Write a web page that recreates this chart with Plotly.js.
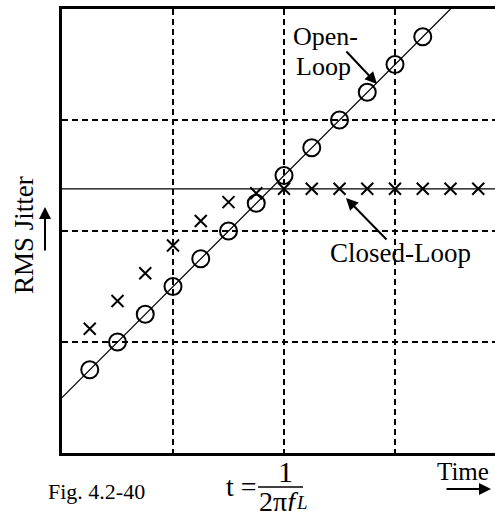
<!DOCTYPE html>
<html>
<head>
<meta charset="utf-8">
<script src="https://cdn.plot.ly/plotly-3.0.1.min.js"></script>
<style>html,body{margin:0;padding:0;background:#fff;}#chart{width:495px;height:511px;}</style>
</head>
<body>
<div id="chart"></div>
<script>
// ---- data (in grid units: one dashed grid cell = 1) ----
var openX = [0.25, 0.5, 0.75, 1.0, 1.25, 1.5, 1.75, 2.0, 2.25, 2.5, 2.75, 3.0, 3.25];
var openY = [0.75, 1.0, 1.25, 1.5, 1.75, 2.0, 2.25, 2.5, 2.75, 3.0, 3.25, 3.5, 3.75];
var closedX = [0.25, 0.5, 0.75, 1.0, 1.25, 1.5, 1.75, 2.0, 2.25, 2.5, 2.75, 3.0, 3.25, 3.5, 3.75];
var closedY = [1.12, 1.37, 1.62, 1.87, 2.09, 2.26, 2.34, 2.38, 2.38, 2.38, 2.38, 2.38, 2.38, 2.38, 2.38];
var lineX = [0, 3.5];
var lineY = [0.5, 4.0];
var plateau = 2.38;
var gridX = [1, 2, 3];
var gridY = [1, 2, 3];

// ---- layout helpers (pixel -> paper) ----
var W = 495, H = 511, ML = 62, MR = 0, MT = 9, MB = 58;
var PW = W - ML - MR, PH = H - MT - MB;
function px(x) { return (x - ML) / PW; }
function py(y) { return (H - MB - y) / PH; }
var FONT = 'Liberation Serif, Times New Roman, serif';

var traces = [
  {x: lineX, y: lineY, mode: 'lines', line: {color: '#000', width: 1.2}, hoverinfo: 'skip'},
  {x: openX, y: openY, mode: 'markers',
   marker: {symbol: 'circle-open', size: 17, color: '#000', line: {width: 2, color: '#000'}}},
  {x: closedX, y: closedY, mode: 'markers',
   marker: {symbol: 'x-thin-open', size: 12, color: '#000', line: {width: 2, color: '#000'}}}
];

var layout = {
  width: W, height: H,
  margin: {l: ML, r: MR, t: MT, b: MB, pad: 0},
  paper_bgcolor: '#fff', plot_bgcolor: '#fff',
  showlegend: false,
  font: {family: FONT, color: '#000'},
  xaxis: {range: [0, PW / 111], tickvals: gridX, showticklabels: false, ticks: '',
          showgrid: true, gridcolor: '#000', gridwidth: 2, griddash: '6px,4px',
          zeroline: false, showline: true, linecolor: '#000', linewidth: 3, mirror: true,
          fixedrange: true},
  yaxis: {range: [0, 4], tickvals: gridY, showticklabels: false, ticks: '',
          showgrid: true, gridcolor: '#000', gridwidth: 2, griddash: '6px,4px',
          zeroline: false, showline: true, linecolor: '#000', linewidth: 3, mirror: false,
          fixedrange: true},
  shapes: [
    {type: 'line', xref: 'paper', yref: 'y', x0: 0, x1: 1, y0: plateau, y1: plateau,
     line: {color: '#000', width: 1.2}},
    {type: 'line', xref: 'paper', yref: 'paper', x0: px(258), x1: px(303), y0: py(487), y1: py(487),
     line: {color: '#000', width: 1.5}}
  ],
  annotations: [
    {xref: 'paper', yref: 'paper', x: px(291), y: py(36), text: 'Open-', showarrow: false,
     xanchor: 'left', yanchor: 'middle', font: {size: 26}},
    {xref: 'paper', yref: 'paper', x: px(294), y: py(66), text: 'Loop', showarrow: false,
     xanchor: 'left', yanchor: 'middle', font: {size: 26}},
    {xref: 'paper', yref: 'paper', x: px(377), y: py(84), ax: -32, ay: -34, text: '',
     showarrow: true, arrowhead: 2, arrowsize: 1.2, arrowwidth: 2, arrowcolor: '#000', standoff: 0},
    {xref: 'paper', yref: 'paper', x: px(400), y: py(253), text: 'Closed-Loop', showarrow: false,
     xanchor: 'center', yanchor: 'middle', font: {size: 27}},
    {xref: 'paper', yref: 'paper', x: px(346), y: py(198), ax: 42, ay: 43, text: '',
     showarrow: true, arrowhead: 2, arrowsize: 1.2, arrowwidth: 2, arrowcolor: '#000', standoff: 0},
    {xref: 'paper', yref: 'paper', x: px(24), y: py(235), text: 'RMS Jitter', textangle: -90,
     showarrow: false, xanchor: 'center', yanchor: 'middle', font: {size: 27}},
    {xref: 'paper', yref: 'paper', x: px(45), y: py(207), ax: 0, ay: 45, text: '',
     showarrow: true, arrowhead: 2, arrowsize: 1.2, arrowwidth: 2, arrowcolor: '#000', standoff: 0},
    {xref: 'paper', yref: 'paper', x: px(463), y: py(472), text: 'Time', showarrow: false,
     xanchor: 'center', yanchor: 'middle', font: {size: 25}},
    {xref: 'paper', yref: 'paper', x: px(491), y: py(489), ax: -46, ay: 0, text: '',
     showarrow: true, arrowhead: 2, arrowsize: 1.2, arrowwidth: 2, arrowcolor: '#000', standoff: 0},
    {xref: 'paper', yref: 'paper', x: px(96), y: py(491), text: 'Fig. 4.2-40', showarrow: false,
     xanchor: 'center', yanchor: 'middle', font: {size: 22}},
    {xref: 'paper', yref: 'paper', x: px(241), y: py(486), text: 't =', showarrow: false,
     xanchor: 'center', yanchor: 'middle', font: {size: 28}},
    {xref: 'paper', yref: 'paper', x: px(285), y: py(471.5), text: '1', showarrow: false,
     xanchor: 'center', yanchor: 'middle', font: {size: 30}},
    {xref: 'paper', yref: 'paper', x: px(278), y: py(501.5), text: '2π<i>f</i>', showarrow: false,
     xanchor: 'center', yanchor: 'middle', font: {size: 28}},
    {xref: 'paper', yref: 'paper', x: px(302), y: py(502), text: '<i>L</i>', showarrow: false,
     xanchor: 'center', yanchor: 'middle', font: {size: 19}}
  ]
};

Plotly.newPlot('chart', traces, layout, {staticPlot: true, displayModeBar: false});
</script>
</body>
</html>
